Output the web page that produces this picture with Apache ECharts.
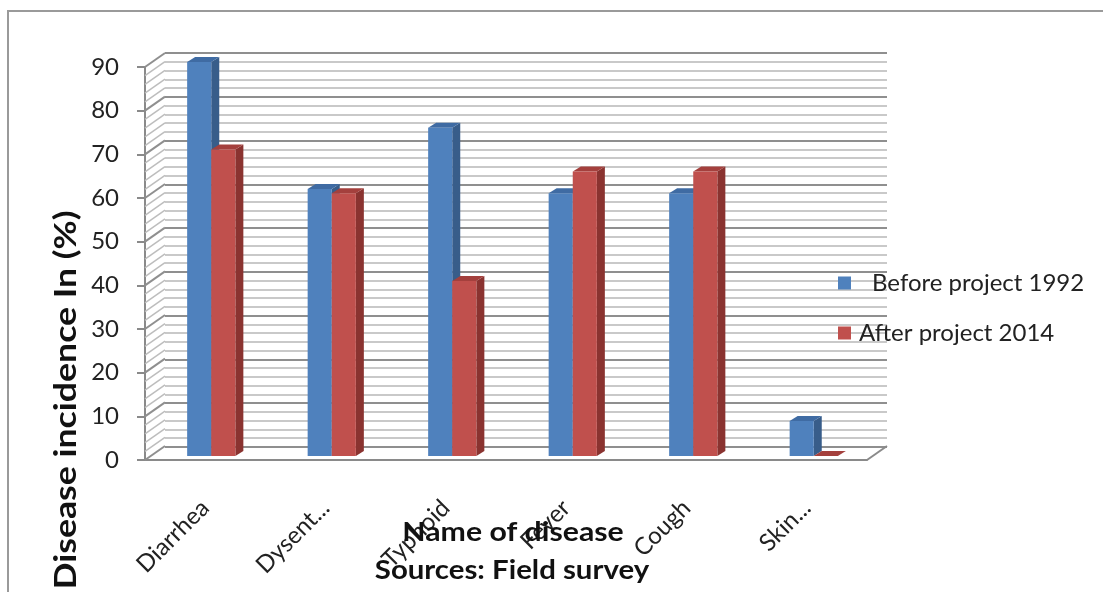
<!DOCTYPE html>
<html>
<head>
<meta charset="utf-8">
<script src="https://cdn.jsdelivr.net/npm/echarts@6/dist/echarts.min.js"></script>
<style>html,body{margin:0;padding:0;background:#fff}#c{width:1103px;height:592px}</style>
</head>
<body>
<div id="c"></div>
<script>
const categories = ['Diarrhea', 'Dysent...', 'Typhoid', 'Fever', 'Cough', 'Skin...'];
const before1992 = [90, 61, 75, 60, 60, 8];
const after2014 = [70, 60, 40, 65, 65, 0];
const seriesNames = ['Before project 1992', 'After project 2014'];
const yTicks = [0, 10, 20, 30, 40, 50, 60, 70, 80, 90];
const wallLines = [0,2,4,6,8,10,12,14,16,18,20,22,24,26,28,30,32,34,36,38,40,42,44,46,48,50,52,54,56,58,60,62,64,66,68,70,72,74,76,78,80,82,84,86,88,90];

const FONT = 'Lato';
const DEPTH_X = 20, DEPTH_Y = -14;
const BAR_DX = 8, BAR_DY = -5;

const blue = {front: '#4F81BD', side: '#385D8A', top: '#3F6BA3'};
const red = {front: '#C0504D', side: '#8A3330', top: '#A4403D'};

function barRenderer(colors, shift) {
  return function (params, api) {
    const idx = api.value(0), val = api.value(1);
    const top = api.coord([idx, val]);
    const base = api.coord([idx, 0]);
    const band = api.size([1, 0])[0];
    const bw = band * 0.2;
    const x0 = top[0] + shift * bw;
    const x1 = x0 + bw;
    const yt = top[1], yb = base[1];
    return {
      type: 'group',
      children: [
        {type: 'polygon', shape: {points: [[x1, yt], [x1 + BAR_DX, yt + BAR_DY], [x1 + BAR_DX, yb + BAR_DY], [x1, yb]]}, style: {fill: colors.side}},
        {type: 'polygon', shape: {points: [[x0, yt], [x0 + BAR_DX, yt + BAR_DY], [x1 + BAR_DX, yt + BAR_DY], [x1, yt]]}, style: {fill: colors.top}},
        {type: 'rect', shape: {x: x0, y: yt, width: bw, height: yb - yt}, style: {fill: colors.front}}
      ]
    };
  };
}

const chart = echarts.init(document.getElementById('c'));
const option = {
  backgroundColor: '#fff',
  animation: false,
  legend: [
    {data: [seriesNames[0]], left: 838, top: 271, padding: 0, icon: 'rect', itemWidth: 13, itemHeight: 13,
     textStyle: {fontFamily: FONT, fontSize: 24, color: '#222', padding: [0, 0, 0, 16]}},
    {data: [seriesNames[1]], left: 838, top: 321, padding: 0, icon: 'rect', itemWidth: 13, itemHeight: 13,
     textStyle: {fontFamily: FONT, fontSize: 24, color: '#222', padding: [0, 0, 0, 3]}}
  ],
  graphic: [
    {type: 'rect', shape: {x: 8, y: 11, width: 1110, height: 600}, style: {fill: 'none', stroke: '#9a9a9a', lineWidth: 2}, silent: true, z: -10},
    {type: 'text', x: 66, y: 400, rotation: Math.PI / 2, scaleX: 1.15, z: 10,
     style: {text: 'Disease incidence In (%)', fontFamily: FONT, fontWeight: 'bold', fontSize: 31, fill: '#111', textAlign: 'center', textVerticalAlign: 'middle'}},
    {type: 'text', x: 513, y: 532, scaleX: 1.12, z: 10,
     style: {text: 'Name of disease', fontFamily: FONT, fontWeight: 'bold', fontSize: 27, fill: '#111', textAlign: 'center', textVerticalAlign: 'middle'}},
    {type: 'text', x: 512, y: 571, scaleX: 1.13, z: 10,
     style: {text: 'Sources: Field survey', fontFamily: FONT, fontWeight: 'bold', fontSize: 26, fill: '#111', textAlign: 'center', textVerticalAlign: 'middle'}}
  ],
  grid: [
    {left: 145, top: 67, width: 722, height: 393},
    {left: 165, top: 53, width: 722, height: 394},
    {left: 151, top: 62, width: 723, height: 394}
  ],
  xAxis: [
    {type: 'category', gridIndex: 0, data: categories,
     axisLine: {show: true, lineStyle: {color: '#8a8a8a', width: 2}}, axisTick: {show: false}, splitLine: {show: false},
     axisLabel: {rotate: 45, margin: 44, fontFamily: FONT, fontSize: 24, color: '#222', interval: 0}},
    {type: 'category', gridIndex: 1, data: categories, show: false},
    {type: 'category', gridIndex: 2, data: categories, show: false}
  ],
  yAxis: [
    {type: 'value', gridIndex: 0, min: 0, max: 90, interval: 10,
     axisLine: {show: true, lineStyle: {color: '#8a8a8a', width: 2}},
     axisTick: {show: true, length: 8, lineStyle: {color: '#8a8a8a', width: 2}},
     axisLabel: {margin: 26, fontFamily: FONT, fontSize: 24, color: '#222'},
     splitLine: {show: false}},
    {type: 'value', gridIndex: 1, min: 0, max: 90, interval: 10,
     axisLine: {show: false}, axisTick: {show: false}, axisLabel: {show: false},
     splitLine: {show: true, lineStyle: {color: '#8f8f8f', width: 2}},
     minorTick: {show: false, splitNumber: 5},
     minorSplitLine: {show: true, lineStyle: {color: '#c9c9c9', width: 2}}},
    {type: 'value', gridIndex: 2, min: 0, max: 90, show: false, splitLine: {show: false}}
  ],
  series: [
    {type: 'custom', name: 'sidewall', xAxisIndex: 0, yAxisIndex: 0, clip: false, silent: true, z: 1,
     data: wallLines.map(v => [0, v]),
     renderItem: function (params, api) {
       const v = api.value(1);
       const y = api.coord([0, v])[1];
       const x = params.coordSys.x;
       const major = yTicks.indexOf(v) >= 0;
       return {type: 'line', shape: {x1: x, y1: y, x2: x + DEPTH_X, y2: y + DEPTH_Y},
               style: {stroke: major ? '#8f8f8f' : '#bdbdbd', lineWidth: major ? 2 : 1.5}};
     }},
    {type: 'custom', name: 'floor', xAxisIndex: 0, yAxisIndex: 0, clip: false, silent: true, z: 1,
     data: [[0, 0]],
     renderItem: function (params, api) {
       const y = api.coord([0, 0])[1];
       const x = params.coordSys.x + params.coordSys.width;
       return {type: 'line', shape: {x1: x, y1: y, x2: x + DEPTH_X, y2: y + DEPTH_Y},
               style: {stroke: '#8a8a8a', lineWidth: 2}};
     }},
    {type: 'custom', name: seriesNames[0], xAxisIndex: 2, yAxisIndex: 2, clip: false, z: 3,
     itemStyle: {color: blue.front},
     data: before1992.map((v, i) => [i, v]),
     renderItem: barRenderer(blue, -1)},
    {type: 'custom', name: seriesNames[1], xAxisIndex: 2, yAxisIndex: 2, clip: false, z: 4,
     itemStyle: {color: red.front},
     data: after2014.map((v, i) => [i, v]),
     renderItem: barRenderer(red, 0)}
  ]
};
chart.setOption(option);
</script>
</body>
</html>
